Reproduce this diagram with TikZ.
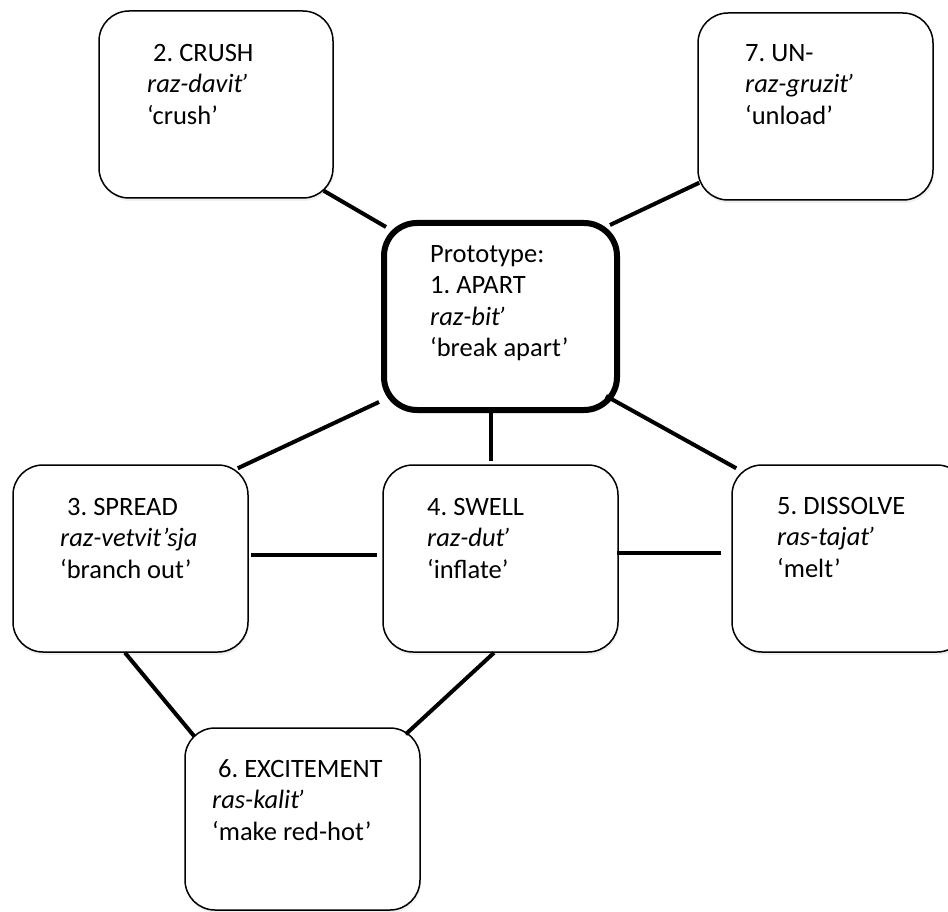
\documentclass[tikz,border=0pt]{standalone}
\usepackage{fontspec}
\setmainfont{Carlito}
\frenchspacing
\usetikzlibrary{calc,shadows}
\newcommand{\tq}{\kern-2pt’}
\tikzset{
  box/.style={draw=black, line width=1.5pt, rounded corners=30pt, fill=white,
    minimum width=235pt, minimum height=187pt, inner sep=0pt,
    drop shadow={shadow xshift=1pt, shadow yshift=-3pt, opacity=0.12}},
  protobox/.style={box, line width=6pt, rounded corners=33pt, minimum width=233pt},
  conn/.style={line width=4pt},
  txt/.style={anchor=north west, inner sep=0pt, align=left,
    font=\fontsize{26.5}{31.5}\selectfont},
}
\begin{document}
\begin{tikzpicture}[x=1pt, y=-1pt]
\useasboundingbox (0,0) rectangle (948,912);
\clip (0,0) rectangle (948,912);
% boxes
\node[box, minimum width=234pt] (b2) at (216,104.5) {};
\node[box] (b7) at (815.5,106.5) {};
\node[protobox] (c) at (500.5,316.5) {};
\node[box] (b3) at (130.5,558.5) {};
\node[box] (b4) at (500.5,558.5) {};
\node[box] (b5) at (849.5,558.5) {};
\node[box, minimum height=182pt] (b6) at (302.5,819) {};
% texts
\node[txt] (t2) at (147,41) {\rule{0pt}{20pt}\hspace*{6pt}2. CRUSH\\ \textit{raz-davit\tq}\\ ‘crush’};
\node[txt] (t7) at (745,41) {\rule{0pt}{20pt}7. UN-\\ \textit{raz-gruzit\tq}\\ ‘unload’};
\node[txt] (tc) at (430,242) {\rule{0pt}{20pt}Prototype:\\ 1. APART\\ \textit{raz-bit\tq}\\ ‘break apart’};
\node[txt] (t3) at (60,495) {\rule{0pt}{20pt}\hspace*{7pt}3. SPREAD\\ \textit{raz-vetvit’sja}\\ ‘branch out’};
\node[txt] (t4) at (427,495) {\rule{0pt}{20pt}4. SWELL\\ \textit{raz-dut\tq}\\ ‘inflate’};
\node[txt] (t5) at (777,494) {\rule{0pt}{20pt}5. DISSOLVE\\ \textit{ras-tajat\tq}\\ ‘melt’};
\node[txt] (t6) at (212,757) {\rule{0pt}{20pt}\hspace*{6pt}6. EXCITEMENT\\ \textit{ras-kalit\tq}\\ ‘make red-hot’};
% connectors
\draw[conn] ($(b2.south east)+(-10,-8)$) -- ($(c.north west)+(5,7)$);
\draw[conn] ($(c.north east)+(-10,5)$) -- ($(b7.south west)+(2,-18)$);
\draw[conn] ($(c.south west)+(-2,-11)$) -- ($(b3.north east)+(-11,4)$);
\draw[conn] ($(c.south)+(-9.5,-6)$) -- ($(b4.north)+(-9.5,-3)$);
\draw[conn] ($(c.south east)+(-14,-17)$) -- ($(b5.north west)+(5,4)$);
\draw[conn] ($(b3.east)+(2,-3.5)$) -- ($(b4.west)+(-5,-3.5)$);
\draw[conn] ($(b4.east)+(-2,-6)$) -- ($(b5.west)+(-10,-6)$);
\draw[conn] ($(b3.south)+(-5.5,0)$) -- ($(b6.north west)+(10,9)$);
\draw[conn] ($(b4.south)+(-6.5,0)$) -- ($(b6.north east)+(-15,7)$);
\end{tikzpicture}
\end{document}
